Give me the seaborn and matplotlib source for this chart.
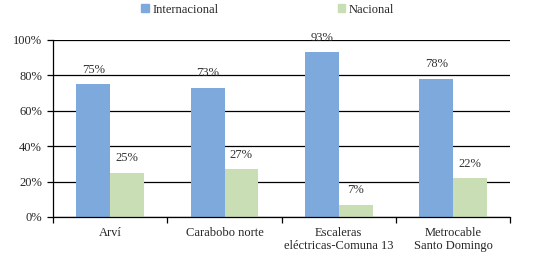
import pandas as pd
import seaborn as sns
import matplotlib.pyplot as plt
import numpy as np

categories = ["Arví", "Carabobo norte", "Escaleras\neléctricas-Comuna 13", "Metrocable\nSanto Domingo"]
internacional = [75, 73, 93, 78]
nacional = [25, 27, 7, 22]
series_names = ["Internacional", "Nacional"]
colors = ["#7DA9DC", "#C9DEB4"]

df = pd.DataFrame({
    "lugar": categories * 2,
    "serie": [series_names[0]] * 4 + [series_names[1]] * 4,
    "valor": internacional + nacional,
})

sns.set_style("white")
plt.rcParams['font.family'] = ['Liberation Serif', 'DejaVu Serif']

fig = plt.figure(figsize=(5.36, 2.54), dpi=100)
ax = fig.add_axes([0.099, 0.146, 0.853, 0.697])

sns.barplot(data=df, x="lugar", y="valor", hue="serie", palette=colors,
            saturation=1, width=0.59, gap=0, linewidth=0, ax=ax, legend=False)

for cont in ax.containers:
    ax.bar_label(cont, labels=[f"{int(round(v))}%" for v in cont.datavalues],
                 padding=6, fontsize=9, color="#333333")

ax.set_ylim(0, 100)
ax.set_xlim(-0.5, 3.5)
ax.set_yticks(np.arange(0, 101, 20))
ax.set_yticklabels([f"{v}%" for v in range(0, 101, 20)], fontsize=9)
ax.yaxis.grid(True, color="black", linewidth=0.9)
ax.set_axisbelow(True)
ax.tick_params(axis="y", length=4, width=0.9, color="black", direction="out", pad=4, left=True)
ax.tick_params(axis="x", length=0, labelsize=9, pad=7)
ax.set_xticks(np.arange(-0.5, 3.6, 1.0), minor=True)
ax.tick_params(axis="x", which="minor", length=4, width=0.9, color="black", bottom=True)
ax.set_xlabel("")
ax.set_ylabel("")
for s in ["top", "right"]:
    ax.spines[s].set_visible(False)
for s in ["left", "bottom"]:
    ax.spines[s].set_color("black")
    ax.spines[s].set_linewidth(0.9)

handles = [plt.Rectangle((0, 0), 1, 1, color=c) for c in colors]
fig.legend(handles, series_names, loc="upper left", bbox_to_anchor=(0.243, 1.03),
           ncol=2, frameon=False, fontsize=9, handlelength=0.6, handleheight=0.6,
           handletextpad=0.3, columnspacing=9.5)

fig.savefig("out.png", dpi=100)
